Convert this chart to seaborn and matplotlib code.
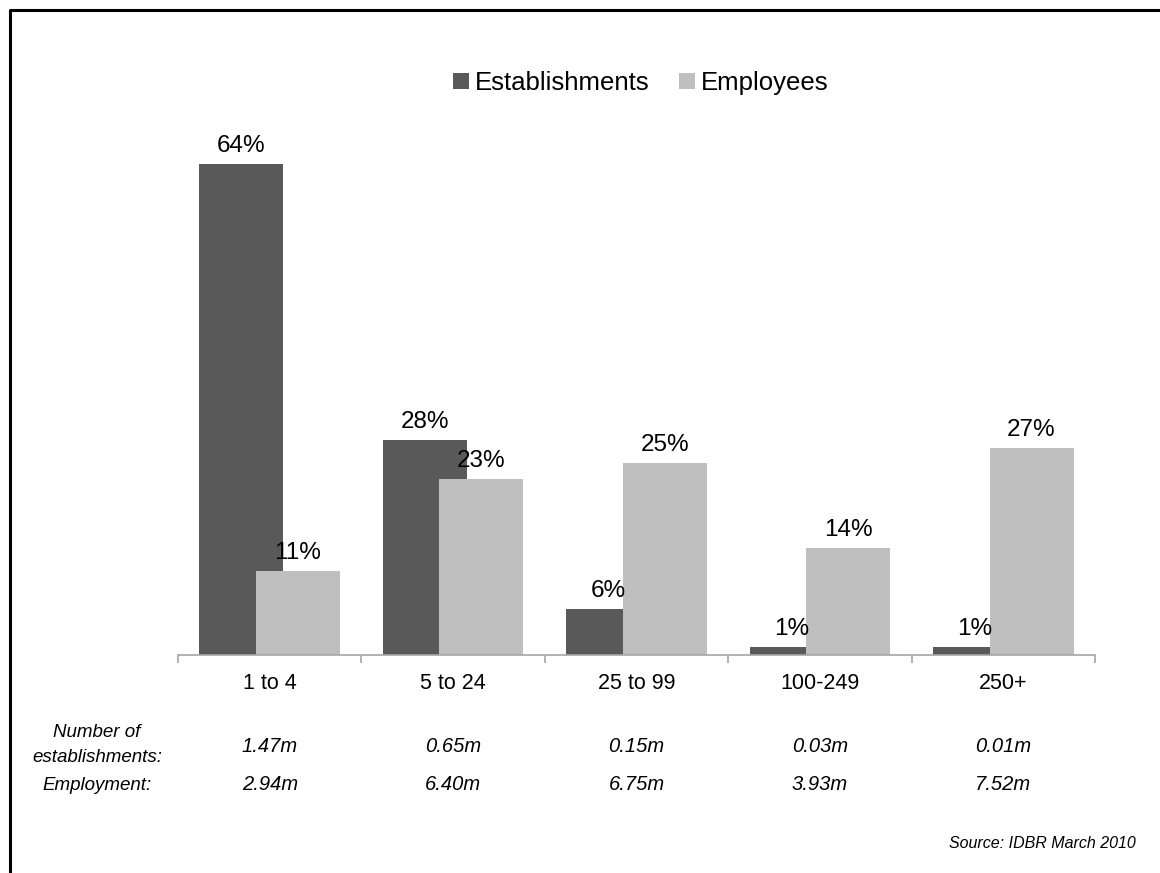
import numpy as np
import matplotlib
matplotlib.use("Agg")
import matplotlib.pyplot as plt
import matplotlib.transforms as mtransforms
from matplotlib.lines import Line2D
import seaborn as sns

# data
sizes = ["1 to 4", "5 to 24", "25 to 99", "100-249", "250+"]
establishments = [64, 28, 6, 1, 1]
employees = [11, 23, 25, 14, 27]
n_establishments = ["1.47m", "0.65m", "0.15m", "0.03m", "0.01m"]
employment = ["2.94m", "6.40m", "6.75m", "3.93m", "7.52m"]

dark = "#595959"
light = "#BFBFBF"

sns.set_style("white")
plt.rcParams["font.family"] = ["Liberation Sans", "DejaVu Sans"]
plt.rcParams["text.color"] = "black"
plt.rcParams["xtick.color"] = "black"

fig = plt.figure(figsize=(11.6, 8.73), dpi=100)
ax = fig.add_axes([178 / 1160, 218 / 873, 917 / 1160, 555 / 873])

pos = np.arange(len(sizes))
off = 0.154
w = 0.458
sns.barplot(x=pos - off, y=establishments, native_scale=True, width=w,
            color=dark, saturation=1, linewidth=0, ax=ax, label="Establishments")
sns.barplot(x=pos + off, y=employees, native_scale=True, width=w,
            color=light, saturation=1, linewidth=0, ax=ax, label="Employees")

# percent labels over each bar
for x, v in zip(pos - off, establishments):
    ax.annotate(f"{v}%", (x, v), xytext=(0, 5), textcoords="offset points",
                ha="center", va="bottom", fontsize=17.5)
for x, v in zip(pos + off, employees):
    ax.annotate(f"{v}%", (x, v), xytext=(0, 5), textcoords="offset points",
                ha="center", va="bottom", fontsize=17.5)

ax.set_xlim(-0.5, len(sizes) - 0.5)
ax.set_ylim(0, 555 / 7.672)
ax.set_ylabel("")
ax.set_yticks([])
for s in ["top", "right", "left"]:
    ax.spines[s].set_visible(False)
ax.spines["bottom"].set_color("#A6A6A6")
ax.spines["bottom"].set_linewidth(1.2)

# boundary ticks (major), category labels on minor ticks
ax.set_xticks(np.arange(-0.5, len(sizes), 1.0))
ax.set_xticklabels([])
ax.tick_params(axis="x", which="major", direction="out", length=6,
               color="#A6A6A6", width=1.2, bottom=True)
ax.set_xticks(pos, minor=True)
ax.set_xticklabels(sizes, minor=True, fontsize=15.5)
ax.tick_params(axis="x", which="minor", length=0, pad=13)

ax.legend(loc="center", bbox_to_anchor=(641 / 1160, 1 - 83 / 873),
          bbox_transform=fig.transFigure, ncol=2, frameon=False,
          fontsize=18.5, handlelength=0.6, handleheight=0.6,
          handletextpad=0.25, columnspacing=1.15)

# table under the axis
tr = mtransforms.blended_transform_factory(ax.transData, fig.transFigure)
for x, a, b in zip(pos, n_establishments, employment):
    ax.text(x, 1 - 746 / 873, a, transform=tr, ha="center", va="center",
            fontsize=14.5, style="italic")
    ax.text(x, 1 - 785 / 873, b, transform=tr, ha="center", va="center",
            fontsize=14.5, style="italic")
fig.text(97 / 1160, 1 - 745 / 873, "Number of\nestablishments:", ha="center",
         va="center", fontsize=13.5, style="italic", linespacing=1.65)
fig.text(97 / 1160, 1 - 785 / 873, "Employment:", ha="center", va="center",
         fontsize=13.5, style="italic")
fig.text(1136 / 1160, 1 - 843 / 873, "Source: IDBR March 2010", ha="right",
         va="center", fontsize=11.5, style="italic")

# slide frame (left and top edges)
fig.add_artist(Line2D([10 / 1160, 10 / 1160, 1.0], [0.0, 1 - 10 / 873, 1 - 10 / 873],
                      transform=fig.transFigure, color="black", linewidth=2.2))

fig.savefig("out.png", dpi=100)
